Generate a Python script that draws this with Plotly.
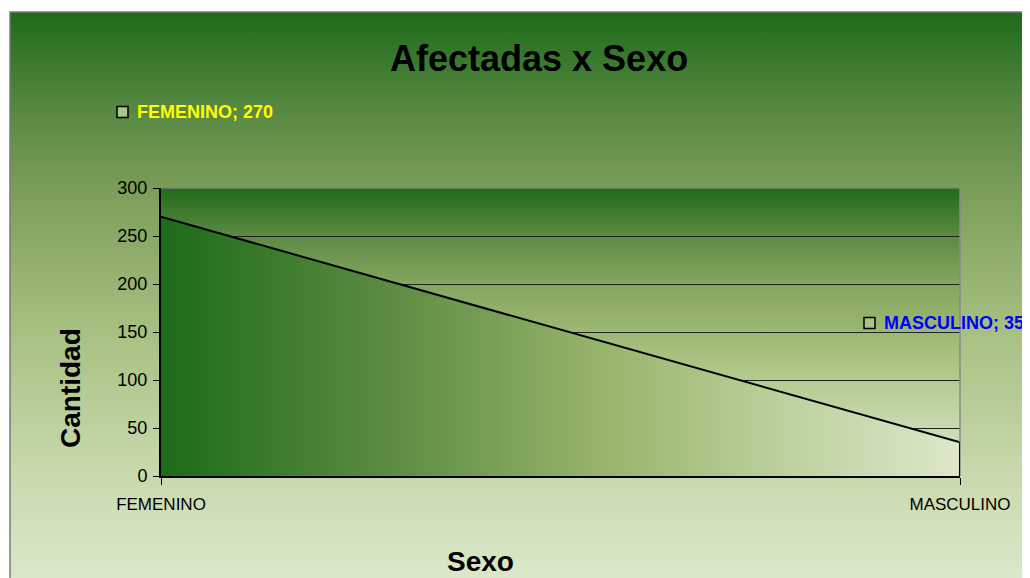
import base64
import plotly.graph_objects as go

# ---- data ----
categories = ["FEMENINO", "MASCULINO"]
values = [270, 35]
y_ticks = [0, 50, 100, 150, 200, 250, 300]
title_text = "Afectadas x Sexo"
x_title = "Sexo"
y_title = "Cantidad"

OFF = 8                      # page body margin
W, H = 1030 - OFF, 578 - OFF  # figure size
L, R, T, B = 161, 960, 188, 476  # plot area in screen pixels


def px(x):
    return (x - L) / (R - L)


def py(y):
    return (B - y) / (B - T)


def svg_grad(stops):
    s = "".join(f'<stop offset="{o}" stop-color="{c}"/>' for o, c in stops)
    svg = (f'<svg xmlns="http://www.w3.org/2000/svg" width="100" height="100" preserveAspectRatio="none">'
           f'<defs><linearGradient id="g" x1="0" y1="0" x2="0" y2="1">{s}</linearGradient></defs>'
           f'<rect width="100" height="100" fill="url(#g)"/></svg>')
    return "data:image/svg+xml;base64," + base64.b64encode(svg.encode()).decode()


frame_bg = svg_grad([(0, "#1e6b1a"), (0.18, "#5a8a44"), (0.32, "#7e9f5c"),
                     (0.55, "#a6c081"), (0.8, "#c9d9ad"), (1, "#dde9cc")])
plot_bg = svg_grad([(0, "#1f6b1a"), (0.17, "#5e8a43"), (0.33, "#84a65e"),
                    (0.5, "#9cb872"), (0.67, "#b4cb90"), (0.83, "#c9dab0"), (1, "#dce8cb")])

fig = go.Figure()
fig.add_trace(go.Scatter(
    x=categories, y=values, mode="lines", fill="tozeroy",
    line=dict(color="black", width=2),
    fillgradient=dict(type="horizontal",
                      colorscale=[[0, "#1c6b19"], [0.3, "#5f8d45"], [0.55, "#97b46b"],
                                  [0.8, "#bfd3a1"], [1, "#dce7c9"]]),
    hoverinfo="skip", showlegend=False,
))

fig.update_layout(
    width=W, height=H,
    margin=dict(l=L - OFF, r=W - (R - OFF), t=T - OFF, b=H - (B - OFF), pad=0),
    paper_bgcolor="white",
    plot_bgcolor="rgba(0,0,0,0)",
    font=dict(family="Liberation Sans, Arial, sans-serif", color="black"),
    showlegend=False,
    images=[
        dict(source=frame_bg, xref="paper", yref="paper", x=px(10), y=py(12),
             sizex=px(1040) - px(10), sizey=py(12) - py(590),
             xanchor="left", yanchor="top", sizing="stretch", layer="below"),
        dict(source=plot_bg, xref="paper", yref="paper", x=0, y=1, sizex=1, sizey=1,
             xanchor="left", yanchor="top", sizing="stretch", layer="below"),
    ],
)

fig.update_xaxes(
    type="category", range=[0, len(categories) - 1],
    showgrid=False, showline=True, linecolor="black", linewidth=2,
    ticks="outside", ticklen=7, tickcolor="black", ticklabelstandoff=5,
    tickfont=dict(size=17, color="black"), zeroline=False,
)
fig.update_yaxes(
    range=[0, 300], tickvals=y_ticks,
    showgrid=True, gridcolor="#222222", gridwidth=1,
    showline=True, linecolor="black", linewidth=2,
    ticks="outside", ticklen=6, tickcolor="black", ticklabelstandoff=2,
    tickfont=dict(size=18, color="black"), zeroline=False,
)

shapes = [
    # frame border
    dict(type="rect", xref="paper", yref="paper", x0=px(10), y0=py(600), x1=px(1050), y1=py(12),
         line=dict(color="#7a7a7a", width=1.5), layer="above"),
    # plot area top and right border
    dict(type="line", xref="paper", yref="paper", x0=0, x1=1, y0=1, y1=1,
         line=dict(color="#7f7f7f", width=1.5)),
    dict(type="line", xref="paper", yref="paper", x0=1, x1=1, y0=0, y1=1,
         line=dict(color="#8a8a8a", width=1.5)),
    # right edge of the area
    dict(type="line", xref="x", yref="y", x0=categories[-1], x1=categories[-1], y0=0, y1=values[-1],
         line=dict(color="black", width=2)),
]

annotations = [
    dict(text=f"<b>{title_text}</b>", xref="paper", yref="paper", x=px(539), y=py(58),
         showarrow=False, font=dict(size=36, color="black"), xanchor="center", yanchor="middle"),
    dict(text=f"<b>{x_title}</b>", xref="paper", yref="paper", x=px(480), y=py(561),
         showarrow=False, font=dict(size=28, color="black"), xanchor="center", yanchor="middle"),
    dict(text=f"<b>{y_title}</b>", xref="paper", yref="paper", x=px(70), y=py(388),
         showarrow=False, font=dict(size=28, color="black"), textangle=-90,
         xanchor="center", yanchor="middle"),
]

label_pos = [(135, 112, "#ffff00"), (882, 323, "#0000ff")]
for cat, val, (lx, ly, col) in zip(categories, values, label_pos):
    annotations.append(dict(text=f"<b>{cat}; {val}</b>", xref="paper", yref="paper",
                            x=px(lx), y=py(ly), showarrow=False, xanchor="left", yanchor="middle",
                            font=dict(size=18, color=col)))
    shapes.append(dict(type="rect", xref="paper", yref="paper",
                       x0=px(lx - 18), x1=px(lx - 7), y0=py(ly + 5.5), y1=py(ly - 5.5),
                       fillcolor="#a9c38a", line=dict(color="black", width=1.5), layer="above"))

fig.update_layout(shapes=shapes, annotations=annotations)
fig.write_html("out.html")
